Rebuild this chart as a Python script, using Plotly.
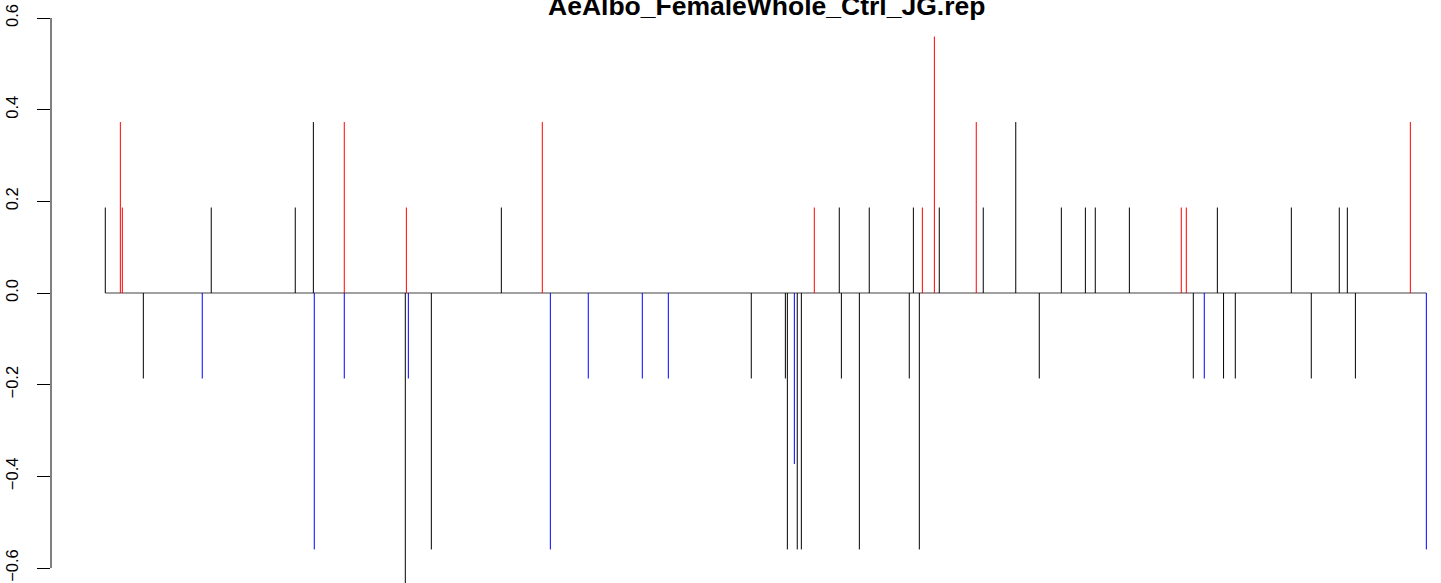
import plotly.graph_objects as go

title_text = "AeAlbo_FemaleWhole_Ctrl_JG.rep"

# relative genomic position (0..1000), score, and whether the site is flagged
positions = [0.0, 11.4, 12.9, 28.8, 73.4, 80.2, 143.8, 157.5, 158.2, 180.9,
             180.9, 227.1, 227.9, 229.4, 246.8, 299.8, 330.8, 336.9, 365.6, 406.5,
             426.2, 489.0, 514.8, 516.3, 521.6, 523.8, 526.9, 536.7, 555.6, 557.2,
             570.8, 578.3, 608.6, 611.7, 616.2, 618.5, 627.6, 631.3, 659.3, 664.6,
             689.2, 707.0, 723.7, 741.9, 749.4, 775.2, 814.5, 818.3, 823.6, 831.9,
             841.8, 846.5, 855.4, 897.8, 912.9, 934.1, 940.2, 946.3, 987.9, 1000.0]
scores = [0.1865, 0.373, 0.1865, -0.1865, -0.1865, 0.1865, 0.1865, 0.373, -0.5595, 0.373,
          -0.1865, -0.64, 0.1865, -0.1865, -0.5595, 0.1865, 0.373, -0.5595, -0.1865, -0.1865,
          -0.1865, -0.1865, -0.1865, -0.5595, -0.373, -0.5595, -0.5595, 0.1865, 0.1865, -0.1865,
          -0.5595, 0.1865, -0.1865, 0.1865, -0.5595, 0.1865, 0.5595, 0.1865, 0.373, 0.1865,
          0.373, -0.1865, 0.1865, 0.1865, 0.1865, 0.1865, 0.1865, 0.1865, -0.1865, -0.1865,
          0.1865, -0.1865, -0.1865, 0.1865, -0.1865, 0.1865, 0.1865, -0.1865, 0.373, -0.5595]
significant = [False, True, True, False, True, False, False, False, True, True,
               True, False, True, True, False, False, True, True, True, True,
               True, False, False, False, True, False, False, True, False, False,
               False, False, False, False, False, True, True, False, True, False,
               False, False, False, False, False, False, True, True, False, True,
               False, False, False, False, False, False, False, False, True, True]

y_ticks = [-0.6, -0.4, -0.2, 0.0, 0.2, 0.4, 0.6]

groups = {"black": ([], []), "red": ([], []), "blue": ([], [])}
for p, s, sig in zip(positions, scores, significant):
    if sig:
        key = "red" if s > 0 else "blue"
    else:
        key = "black"
    xs, ys = groups[key]
    xs += [p, p, None]
    ys += [0, s, None]

fig = go.Figure()

fig.add_trace(go.Scatter(
    x=[min(positions), max(positions)], y=[0, 0], mode="lines",
    line=dict(color="#808080", width=1.5), showlegend=False, hoverinfo="skip"))

for color, (xs, ys) in groups.items():
    fig.add_trace(go.Scatter(x=xs, y=ys, mode="lines",
                             line=dict(color=color, width=1),
                             showlegend=False, hoverinfo="skip"))

fig.update_layout(
    width=1441, height=583,
    margin=dict(l=51, r=0, t=0, b=0),
    paper_bgcolor="white", plot_bgcolor="white",
    font=dict(family="Liberation Sans, Arial, sans-serif", color="black"),
    xaxis=dict(visible=False, range=[-41.1, 1011.1]),
    yaxis=dict(range=[-0.6327, 0.6393], tickvals=y_ticks, tickformat=".1f",
               showgrid=False, zeroline=False, showline=False,
               ticks="outside", ticklen=13, tickwidth=1, tickcolor="black",
               tickangle=-90, tickfont=dict(size=16.5, family="Liberation Sans"),
               ticklabelstandoff=12, automargin=False),
    shapes=[dict(type="line", xref="paper", yref="y", x0=0, x1=0,
                 y0=y_ticks[0], y1=y_ticks[-1], line=dict(color="black", width=1))],
    annotations=[dict(text="<b>" + title_text + "</b>", xref="paper", yref="paper",
                      x=0.5151, y=0.9889, xanchor="center", yanchor="middle",
                      showarrow=False,
                      font=dict(size=26.5, family="Liberation Sans", color="black"))],
)

fig.write_html("out.html",
               config={"displayModeBar": False},
               post_script="document.body.style.margin='0';document.body.style.overflow='hidden';")
